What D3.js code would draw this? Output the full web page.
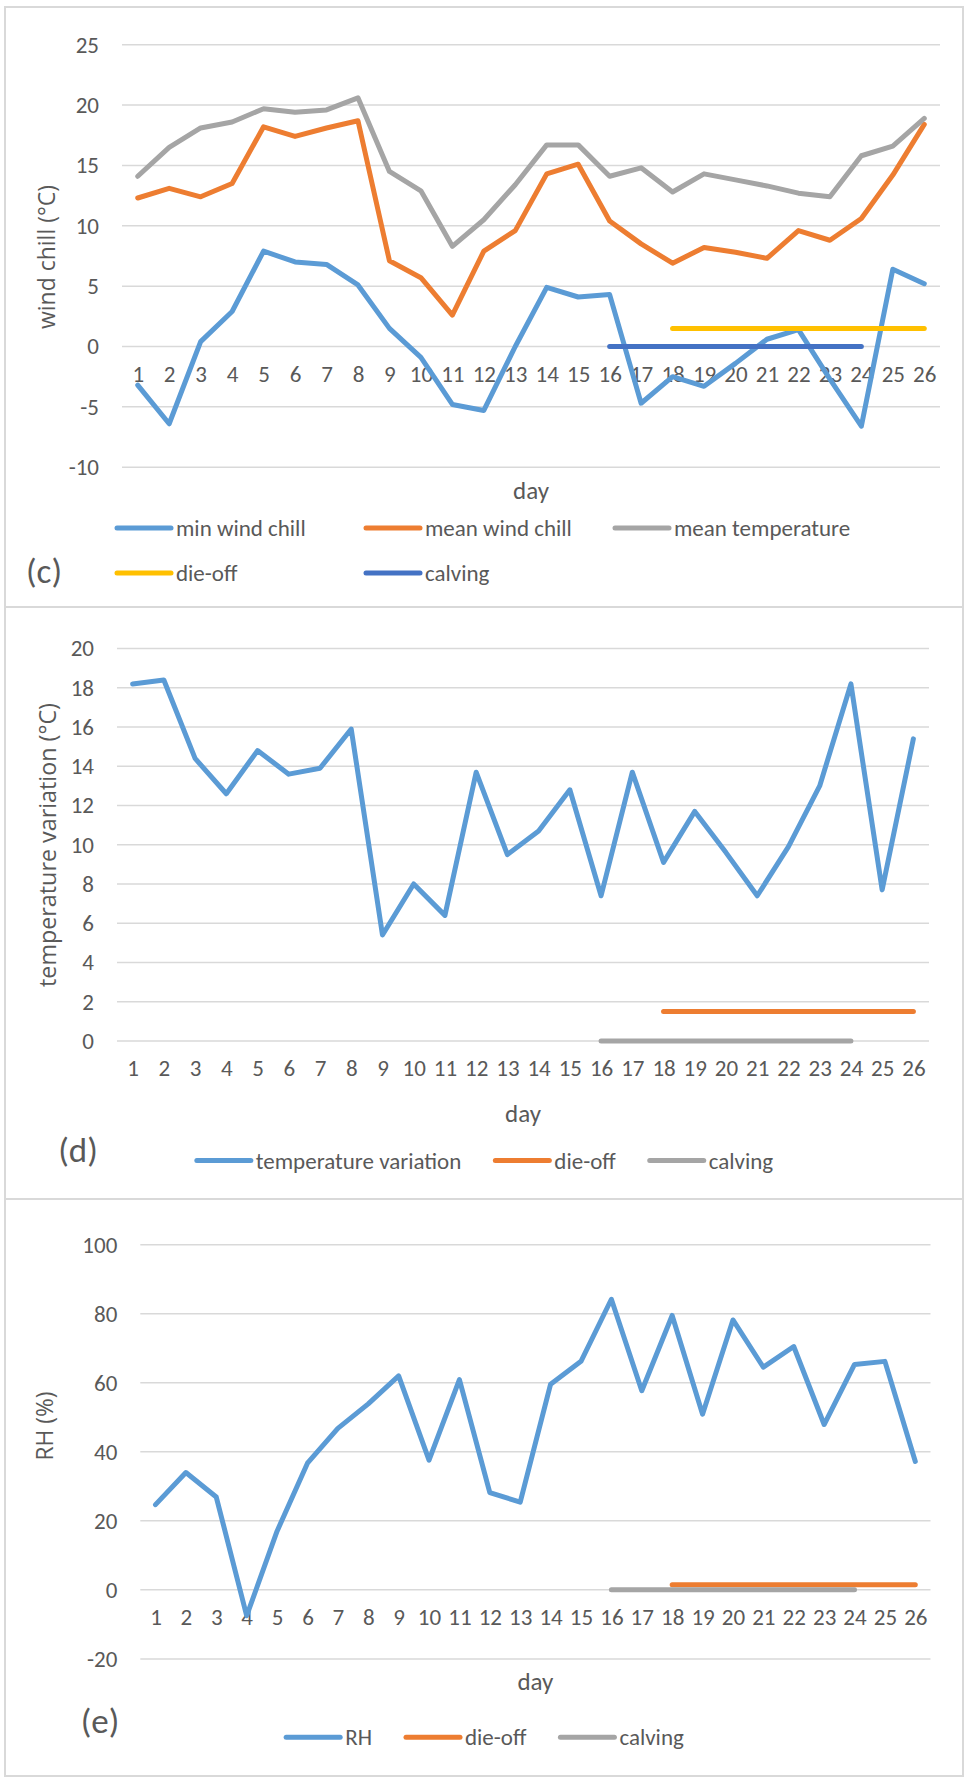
<!DOCTYPE html>
<html>
<head>
<meta charset="utf-8">
<script src="https://cdn.jsdelivr.net/npm/d3@7"></script>
<style>
  html, body { margin: 0; padding: 0; background: #fff; }
  svg { display: block; }
</style>
</head>
<body>
<svg id="fig" width="965" height="1781"></svg>
<script>
// ---- data ----
const days = d3.range(1, 27);

// (c) wind chill, °C
const minWindChill = [-3.2, -6.4, 0.4, 2.9, 7.9, 7.0, 6.8, 5.1, 1.5, -0.9, -4.8, -5.3, 0.0, 4.9, 4.1, 4.3,
  -4.7, -2.5, -3.3, -1.4, 0.6, 1.4, -2.7, -6.6, 6.4, 5.2];
const meanWindChill = [12.3, 13.1, 12.4, 13.5, 18.2, 17.4, 18.1, 18.7, 7.1, 5.7, 2.6, 7.9, 9.6, 14.3, 15.1, 10.4,
  8.5, 6.9, 8.2, 7.8, 7.3, 9.6, 8.8, 10.6, 14.2, 18.4];
const meanTemperature = [14.1, 16.5, 18.1, 18.6, 19.7, 19.4, 19.6, 20.6, 14.5, 12.9, 8.3, 10.5, 13.4, 16.7, 16.7, 14.1,
  14.8, 12.8, 14.3, 13.8, 13.3, 12.7, 12.4, 15.8, 16.6, 18.9];

// (d) daily temperature variation, °C
const tempVariation = [18.2, 18.4, 14.4, 12.6, 14.8, 13.6, 13.9, 15.9, 5.4, 8.0, 6.4, 13.7, 9.5, 10.7, 12.8, 7.4,
  13.7, 9.1, 11.7, 9.6, 7.4, 9.9, 13.0, 18.2, 7.7, 15.4];

// (e) relative humidity, %
const relHumidity = [24.7, 34.0, 26.9, -7.5, 17.0, 36.7, 46.8, 53.9, 62.0, 37.6, 60.9, 28.2, 25.4, 59.6, 66.2, 84.2,
  57.7, 79.5, 50.9, 78.2, 64.5, 70.5, 47.9, 65.3, 66.2, 37.2];

// event periods, drawn as flat markers
const dieOffDays = d3.range(18, 27);
const calvingDays = d3.range(16, 25);
const dieOffLevel = 1.5;
const calvingLevel = 0;

// axis ticks
const ticksC = [-10, -5, 0, 5, 10, 15, 20, 25];
const ticksD = [0, 2, 4, 6, 8, 10, 12, 14, 16, 18, 20];
const ticksE = [-20, 0, 20, 40, 60, 80, 100];

// ---- palette ----
const C = { blue: "#5b9bd5", orange: "#ed7d31", gray: "#a5a5a5", yellow: "#ffc000", navy: "#4472c4",
  grid: "#d9d9d9", frame: "#d9d9d9", text: "#595959" };

const svg = d3.select("#fig");
const FONT = "Carlito, Calibri, Lato, sans-serif";
const TITLE_FONT = "'Open Sans', 'Noto Sans', sans-serif";

function flat(dayList, level) { return dayList.map(d => ({ day: d, v: level })); }
function series(values) { return values.map((v, i) => ({ day: days[i], v })); }
// plain hyphen for negatives, as in a spreadsheet
const fmt = v => String(v);

function drawPanel(p) {
  const g = svg.append("g");

  // frame
  g.append("rect")
    .attr("x", p.frame[0]).attr("y", p.frame[1])
    .attr("width", p.frame[2] - p.frame[0]).attr("height", p.frame[3] - p.frame[1])
    .attr("fill", "none").attr("stroke", C.frame).attr("stroke-width", 2);

  const x = d3.scalePoint().domain(days).range(p.xRange).padding(0.5);
  const y = d3.scaleLinear().domain(p.yDomain).range(p.yRange);

  // gridlines + y labels
  const yAxis = d3.axisLeft(y).tickValues(p.ticks).tickSize(0).tickPadding(23).tickFormat(fmt);
  const ya = g.append("g").attr("transform", `translate(${p.xRange[0]},0)`).call(yAxis);
  ya.select(".domain").remove();
  ya.selectAll("text").attr("font-size", 23).attr("fill", C.text).style("font-family", FONT);
  g.append("g").selectAll("line").data(p.ticks).join("line")
    .attr("x1", p.xRange[0]).attr("x2", p.xRange[1])
    .attr("y1", d => y(d)).attr("y2", d => y(d))
    .attr("stroke", C.grid).attr("stroke-width", 1.5);

  // category labels sit just below the zero line
  const xAxis = d3.axisBottom(x).tickSize(0).tickPadding(19);
  const xa = g.append("g").attr("transform", `translate(0,${y(0)})`).call(xAxis);
  xa.select(".domain").remove();
  xa.selectAll("text").attr("font-size", 23).attr("fill", C.text).style("font-family", FONT);

  // lines
  const line = d3.line().x(d => x(d.day)).y(d => y(d.v));
  p.series.forEach(s => {
    g.append("path").datum(s.data)
      .attr("d", line).attr("fill", "none")
      .attr("stroke", s.color).attr("stroke-width", 5)
      .attr("stroke-linejoin", "round").attr("stroke-linecap", "round");
  });

  // value-axis title: size chosen so the title spans its set length
  const yt = g.append("text")
    .attr("transform", `translate(${p.yTitle[0]},${p.yTitle[1]}) rotate(-90)`)
    .attr("text-anchor", "middle").attr("dominant-baseline", "central")
    .style("font-family", TITLE_FONT).style("font-size", "20px")
    .attr("fill", C.text).text(p.yLabel);
  const natural = yt.node().getComputedTextLength();
  if (natural > 0) yt.style("font-size", (20 * p.yTitleLen / natural).toFixed(2) + "px");

  g.append("text")
    .attr("x", (p.xRange[0] + p.xRange[1]) / 2).attr("y", p.xTitleY)
    .attr("text-anchor", "middle").attr("dominant-baseline", "central")
    .style("font-family", FONT).attr("fill", C.text)
    .attr("font-size", 25).text("day");

  // panel tag
  g.append("text")
    .attr("x", p.tag[0]).attr("y", p.tag[1])
    .attr("text-anchor", "middle").attr("dominant-baseline", "central")
    .style("font-family", FONT).attr("fill", C.text)
    .attr("font-size", 35).text(p.tagText);

  // legend
  const lg = g.append("g");
  const items = p.series.map(s => {
    const it = lg.append("g");
    it.append("line").attr("x1", 0).attr("x2", 54).attr("y1", 0).attr("y2", 0)
      .attr("stroke", s.color).attr("stroke-width", 5).attr("stroke-linecap", "round");
    const t = it.append("text")
      .attr("x", 59).attr("y", 0).attr("dominant-baseline", "central")
      .style("font-family", FONT).attr("fill", C.text)
      .attr("font-size", 23).text(s.name);
    return { node: it, width: 59 + t.node().getComputedTextLength() };
  });
  if (p.legendCols) {
    items.forEach((it, i) => {
      const col = i % p.legendCols.length, row = Math.floor(i / p.legendCols.length);
      it.node.attr("transform", `translate(${p.legendCols[col]},${p.legendRows[row]})`);
    });
  } else {
    const gap = 34;
    const total = d3.sum(items, d => d.width) + gap * (items.length - 1);
    let cx = p.legendCenter - total / 2;
    items.forEach(it => {
      it.node.attr("transform", `translate(${cx},${p.legendRows[0]})`);
      cx += it.width + gap;
    });
  }
}

drawPanel({
  frame: [5, 7, 963, 607],
  xRange: [122, 940], yDomain: [-10, 25], yRange: [467.2, 44.7], ticks: ticksC,
  yLabel: "wind chill (°C)", yTitle: [46, 257], yTitleLen: 144, xTitleY: 490,
  tag: [44, 571], tagText: "(c)",
  legendCols: [117, 366, 615], legendRows: [528, 573],
  series: [
    { name: "min wind chill", color: C.blue, data: series(minWindChill) },
    { name: "mean wind chill", color: C.orange, data: series(meanWindChill) },
    { name: "mean temperature", color: C.gray, data: series(meanTemperature) },
    { name: "die-off", color: C.yellow, data: flat(dieOffDays, dieOffLevel) },
    { name: "calving", color: C.navy, data: flat(calvingDays, calvingLevel) }
  ]
});

drawPanel({
  frame: [5, 607, 963, 1199],
  xRange: [117, 929], yDomain: [0, 20], yRange: [1040.9, 648.6], ticks: ticksD,
  yLabel: "temperature variation (°C)", yTitle: [47, 845], yTitleLen: 284, xTitleY: 1113,
  tag: [78, 1150], tagText: "(d)",
  legendCenter: 485, legendRows: [1160.6],
  series: [
    { name: "temperature variation", color: C.blue, data: series(tempVariation) },
    { name: "die-off", color: C.orange, data: flat(dieOffDays, dieOffLevel) },
    { name: "calving", color: C.gray, data: flat(calvingDays, calvingLevel) }
  ]
});

drawPanel({
  frame: [5, 1199, 963, 1776],
  xRange: [140.3, 930.5], yDomain: [-20, 100], yRange: [1658.9, 1244.7], ticks: ticksE,
  yLabel: "RH (%)", yTitle: [44, 1426], yTitleLen: 69, xTitleY: 1681,
  tag: [100, 1721], tagText: "(e)",
  legendCenter: 485, legendRows: [1737.3],
  series: [
    { name: "RH", color: C.blue, data: series(relHumidity) },
    { name: "die-off", color: C.orange, data: flat(dieOffDays, dieOffLevel) },
    { name: "calving", color: C.gray, data: flat(calvingDays, calvingLevel) }
  ]
});
</script>
</body>
</html>
